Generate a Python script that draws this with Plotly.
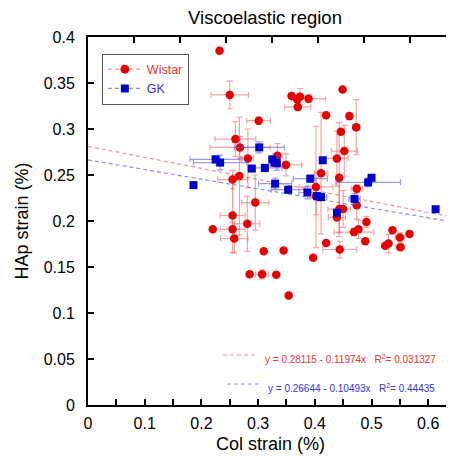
import plotly.graph_objects as go

# ---------------- data ----------------
wistar_x = [0.232, 0.250, 0.301, 0.260, 0.268, 0.282, 0.334, 0.349, 0.359, 0.369,
            0.374, 0.389, 0.370, 0.449, 0.420, 0.461, 0.473, 0.446, 0.452, 0.439,
            0.411, 0.443, 0.402, 0.474, 0.402, 0.474, 0.443, 0.450, 0.439, 0.491,
            0.469, 0.477, 0.420, 0.444, 0.397, 0.489, 0.537, 0.567, 0.550, 0.530,
            0.524, 0.551, 0.255, 0.255, 0.220, 0.255, 0.258, 0.295, 0.281, 0.310,
            0.345, 0.285, 0.307, 0.332, 0.354, 0.267]
wistar_y = [0.385, 0.337, 0.309, 0.289, 0.280, 0.268, 0.271, 0.261, 0.336, 0.332,
            0.335, 0.333, 0.324, 0.343, 0.315, 0.314, 0.302, 0.297, 0.276, 0.268,
            0.252, 0.247, 0.237, 0.235, 0.227, 0.217, 0.213, 0.213, 0.204, 0.199,
            0.188, 0.191, 0.176, 0.169, 0.160, 0.178, 0.190, 0.186, 0.182, 0.1755,
            0.173, 0.1716, 0.245, 0.206, 0.191, 0.191, 0.181, 0.220, 0.197, 0.167,
            0.168, 0.142, 0.142, 0.1415, 0.119, 0.249]
wistar_xerr = [0, 0.033, 0.021, 0.036, 0.053, 0.010, 0.008, 0.028, 0.005, 0,
               0.004, 0.030, 0.023, 0, 0, 0, 0.006, 0, 0.023, 0.020,
               0.012, 0.005, 0.030, 0.010, 0, 0.004, 0.020, 0, 0.015, 0.004,
               0.035, 0.004, 0, 0.030, 0, 0, 0, 0, 0.008, 0.004,
               0, 0.008, 0.026, 0.022, 0, 0.022, 0.024, 0.024, 0.022, 0,
               0, 0, 0.012, 0, 0, 0.004]
wistar_yerr = [0, 0.015, 0.004, 0.019, 0.012, 0.032, 0.013, 0.012, 0.003, 0,
               0.009, 0.004, 0.004, 0, 0, 0, 0.030, 0, 0.028, 0.030,
               0.066, 0.060, 0.066, 0.004, 0.020, 0.015, 0.030, 0.020, 0.004, 0.006,
               0.004, 0.010, 0, 0.009, 0, 0, 0, 0, 0.005, 0.010,
               0, 0.003, 0.010, 0.040, 0, 0.008, 0.016, 0.030, 0.030, 0,
               0, 0, 0.005, 0, 0, 0.064]

gk_x = [0.186, 0.225, 0.233, 0.289, 0.302, 0.312, 0.325, 0.329, 0.333, 0.330,
        0.353, 0.387, 0.392, 0.404, 0.411, 0.414, 0.439, 0.470, 0.494, 0.500, 0.613]
gk_y = [0.239, 0.267, 0.2635, 0.257, 0.280, 0.2577, 0.267, 0.2635, 0.263, 0.2406,
        0.234, 0.231, 0.246, 0.227, 0.226, 0.266, 0.209, 0.224, 0.242, 0.247, 0.2128]
gk_xerr = [0, 0.045, 0.047, 0, 0.044, 0.030, 0, 0, 0.005, 0.029,
           0.030, 0.015, 0.030, 0, 0.010, 0, 0, 0.010, 0.057, 0, 0]
gk_yerr = [0, 0.004, 0.008, 0, 0.006, 0.004, 0, 0.004, 0.008, 0.006,
           0.004, 0.007, 0.004, 0, 0.004, 0, 0, 0.006, 0.005, 0, 0]

# linear fits (intercept, slope, R^2)
wistar_fit = (0.28115, -0.11974, 0.031327)
gk_fit = (0.26644, -0.10493, 0.44435)

x_range = [0, 0.6437]
y_range = [0, 0.4]
x_tickvals = [0, 0.1, 0.2, 0.3, 0.4, 0.5, 0.6]
x_ticktext = ["0", "0.1", "0.2", "0.3", "0.4", "0.5", "0.6"]
y_tickvals = [0, 0.05, 0.1, 0.15, 0.2, 0.25, 0.3, 0.35, 0.4]
y_ticktext = ["0", "0.05", "0.1", "0.15", "0.2", "0.25", "0.3", "0.35", "0.4"]
top_tickvals = [0.0811, 0.1622, 0.2433, 0.3245, 0.4056, 0.4867, 0.5678]

RED = "#e60000"
RED_LIGHT = "rgba(240,110,110,0.75)"
RED_ERR = "rgba(240,90,90,0.55)"
BLUE = "#0000cc"
BLUE_LIGHT = "rgba(110,110,240,0.8)"
BLUE_ERR = "rgba(90,90,230,0.6)"
FONT = "Liberation Sans, Arial, sans-serif"

# page body has an 8px margin: the figure is sized/placed to compensate
W, H = 446, 448

fig = go.Figure()

# fit lines
for (b0, b1, r2), col in [(wistar_fit, RED_LIGHT), (gk_fit, BLUE_LIGHT)]:
    fig.add_trace(go.Scatter(
        x=x_range, y=[b0 + b1 * x_range[0], b0 + b1 * x_range[1]],
        mode="lines", line=dict(color=col, width=1.2, dash="4px,3px"),
        showlegend=False, hoverinfo="skip"))

# data
fig.add_trace(go.Scatter(
    x=wistar_x, y=wistar_y, mode="markers",
    marker=dict(symbol="circle", size=8.5, color=RED),
    error_x=dict(type="data", array=wistar_xerr, color=RED_ERR, thickness=1.2, width=3),
    error_y=dict(type="data", array=wistar_yerr, color=RED_ERR, thickness=1.2, width=3),
    showlegend=False))
fig.add_trace(go.Scatter(
    x=gk_x, y=gk_y, mode="markers",
    marker=dict(symbol="square", size=8, color=BLUE),
    error_x=dict(type="data", array=gk_xerr, color=BLUE_ERR, thickness=1.2, width=3),
    error_y=dict(type="data", array=gk_yerr, color=BLUE_ERR, thickness=1.2, width=3),
    showlegend=False))

# legend entries
fig.add_trace(go.Scatter(
    x=[None], y=[None], mode="lines+markers",
    name='<span style="color:#ee3333">Wistar</span>',
    line=dict(color=RED_LIGHT, width=1.2, dash="4px,3px"),
    marker=dict(symbol="circle", size=9, color=RED)))
fig.add_trace(go.Scatter(
    x=[None], y=[None], mode="lines+markers",
    name='<span style="color:#3333ee">GK</span>',
    line=dict(color=BLUE_LIGHT, width=1.2, dash="4px,3px"),
    marker=dict(symbol="square", size=8, color=BLUE)))

# fit equation labels
annotations = []
shapes = []
eq_rows = [
    (wistar_fit, RED_LIGHT, "#ee3333", 0.0543, 0.238, 0.300, 0.3086, 0.0500),
    (gk_fit, BLUE_LIGHT, "#3333ee", 0.0228, 0.245, 0.307, 0.3140, 0.0185),
]
for (b0, b1, r2), lc, tc, ly, lx0, lx1, tx, ty in eq_rows:
    shapes.append(dict(type="line", xref="x", yref="y", x0=lx0, x1=lx1, y0=ly, y1=ly,
                       line=dict(color=lc, width=1, dash="4px,3px")))
    annotations.append(dict(
        xref="x", yref="y", x=tx, y=ty, xanchor="left", yanchor="middle", showarrow=False,
        text=f"y = {b0:.5f} - {abs(b1):.5f}x   R<sup>2</sup>= {r2}",
        font=dict(size=10, color=tc, family=FONT)))

fig.update_layout(
    width=W, height=H,
    margin=dict(l=80, r=1, t=28.5, b=51, autoexpand=False),
    paper_bgcolor="white", plot_bgcolor="white",
    font=dict(family=FONT, color="black"),
    title=dict(text="Viscoelastic region", x=257 / W, xref="container", xanchor="center",
               y=1 - 9.5 / H, yref="container", yanchor="middle",
               font=dict(size=18.5, color="black", family=FONT)),
    showlegend=True,
    legend=dict(x=0.038, y=0.955, xanchor="left", yanchor="top",
                bordercolor="#555555", borderwidth=1, bgcolor="white",
                font=dict(size=12.5, family=FONT), itemwidth=34,
                tracegroupgap=0),
    annotations=annotations,
    shapes=shapes,
    xaxis=dict(range=x_range, showgrid=False, zeroline=False, automargin=False,
               showline=True, linecolor="black", linewidth=2, mirror=True,
               ticks="inside", ticklen=6, tickwidth=2, tickcolor="black",
               tickvals=x_tickvals, ticktext=x_ticktext,
               minor=dict(dtick=0.05, tick0=0, ticks="inside", ticklen=6, tickwidth=2, tickcolor="black"),
               tickfont=dict(size=16), ticklabelstandoff=3,
               title=dict(text="Col strain (%)", font=dict(size=18), standoff=6)),
    xaxis2=dict(range=x_range, overlaying="x", side="top", showgrid=False, zeroline=False,
                automargin=False,
                showline=False, ticks="inside", ticklen=6, tickwidth=2, tickcolor="black",
                tickvals=top_tickvals, showticklabels=False),
    yaxis=dict(range=y_range, showgrid=False, zeroline=False, automargin=False,
               showline=True, linecolor="black", linewidth=2, mirror="ticks",
               ticks="inside", ticklen=6, tickwidth=2, tickcolor="black",
               tickvals=y_tickvals, ticktext=y_ticktext,
               tickfont=dict(size=16), ticklabelstandoff=8,
               title=dict(text="HAp strain (%)", font=dict(size=18), standoff=10)),
)
# dummy trace to activate xaxis2
fig.add_trace(go.Scatter(x=[None], y=[None], xaxis="x2", showlegend=False, hoverinfo="skip"))

fig.write_html("out.html")
